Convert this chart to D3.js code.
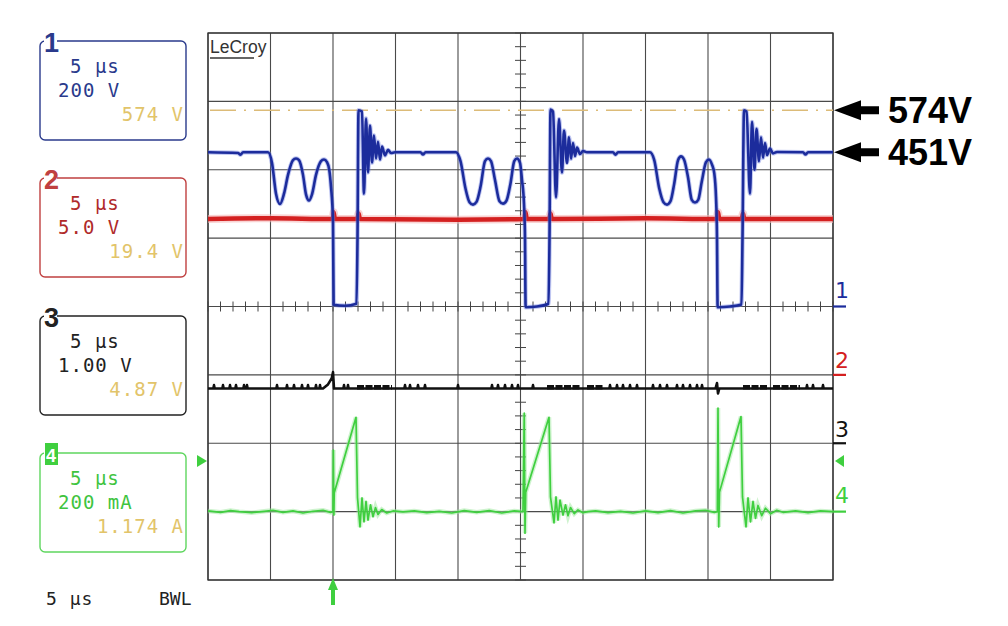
<!DOCTYPE html>
<html><head><meta charset="utf-8">
<script src="https://cdn.jsdelivr.net/npm/d3@7"></script>
<style>
html,body{margin:0;padding:0;background:#fff;}
svg{display:block;}
</style></head>
<body><svg id="c" width="1008" height="626"></svg>
<script>
// ---------- DATA ----------
const timeRange = [-10, 40];          // µs, 5 µs/div, trigger at 0
const divRange = [-4, 4];             // vertical divisions
const channelNames = ["1", "2", "3", "4"];
const channelGround = [0, -1, -2, -3];     // ground position (div)
const channelPerDiv = [200, 5, 1, 200];    // V/div, V/div, V/div, mA/div
const channelColors = ["#1c2c9c", "#d42020", "#111111", "#3fcf3f"];
const boxTime = ["5 µs", "5 µs", "5 µs", "5 µs"];
const boxScale = ["200 V", "5.0 V", "1.00 V", "200 mA"];
const boxMeas = ["574 V", "19.4 V", "4.87 V", "1.174 A"];
const annotValues = [574, 451];
const annotLabels = ["574V", "451V"];
const triggerLevel = 148; // mA on ch4

// Channel 1 (drain voltage, V)
const ch1Trace = [
 [-10,451],[-7.6,449],[-7.4,444],[-7.2,451],[-5.2,451],[-4.88,420],[-4.56,330],[-4.24,300],[-3.92,330],[-3.6,385],[-3.2,428],[-2.96,433],[-2.72,428],[-2.4,385],[-2.16,328],[-1.92,310],[-1.68,328],[-1.36,385],[-0.96,425],[-0.72,430],[-0.48,422],[-0.3,400],[-0.16,350],[0,250],[0.05,5],[0.96,2],[1.88,8],[1.96,200],[2.04,574],[2.32,570],[2.48,330],[2.64,550],[2.8,392],[2.96,529],[3.12,421],[3.28,500],[3.44,433],[3.6,482],[3.76,430],[3.92,468],[4.16,442],[4.4,458],[4.64,449],[4.96,451],
 [7.0,451],[7.2,445],[7.4,451],[9.84,451],[10.2,425],[10.6,345],[10.92,305],[11.2,298],[11.48,306],[11.8,350],[12.16,425],[12.4,433],[12.64,425],[12.96,370],[13.32,308],[13.6,301],[13.88,310],[14.2,360],[14.5,425],[14.72,433],[14.96,420],[15.12,370],[15.28,300],[15.36,200],[15.41,-2],[16.32,0],[17.24,8],[17.32,200],[17.4,576],[17.6,570],[17.84,319],[18.08,548],[18.32,392],[18.48,515],[18.72,420],[18.88,495],[19.04,432],[19.2,478],[19.36,440],[19.52,465],[19.76,446],[20.0,455],[20.32,451],
 [22.4,451],[22.6,444],[22.8,451],[25.36,451],[25.7,428],[26.1,345],[26.44,305],[26.72,298],[27.0,308],[27.3,360],[27.6,428],[27.84,439],[28.08,430],[28.4,378],[28.7,312],[28.96,304],[29.22,312],[29.5,365],[29.84,422],[30.08,430],[30.32,415],[30.5,390],[30.64,320],[30.72,200],[30.77,-2],[31.76,0],[32.68,6],[32.76,200],[32.88,574],[33.08,570],[33.36,330],[33.52,540],[33.72,400],[33.88,520],[34.08,425],[34.24,495],[34.4,435],[34.56,478],[34.72,443],[34.96,462],[35.2,448],[35.52,452],[37.6,451],[37.8,445],[38.0,451],[40,451]
];
// Channel 2 (V)
const ch2Trace = [
 [-10,11.4],[-5,11.45],[0,11.4],[0.05,11.9],[0.15,11.4],[1.95,11.4],[2.05,11.8],[2.15,11.4],[10,11.35],[15.3,11.4],[15.4,11.9],[15.5,11.4],[17.3,11.4],[17.4,11.8],[17.5,11.4],[25,11.45],[30.7,11.4],[30.8,11.9],[30.9,11.4],[32.7,11.4],[32.8,11.8],[32.9,11.4],[40,11.4]
];
// Channel 3 (V)
const ch3Base = 0.80;
const ch3Spikes = [-9.52,-8.8,-8.24,-7.76,-7.12,-6.88,-4.48,-3.68,-3.12,-2.48,-2.0,-1.36,-1.04,0.88,1.2,5.76,6.16,6.8,7.36,10.0,12.72,13.2,13.76,14.32,14.8,16.0,22.16,22.72,23.2,23.76,24.32,25.6,26.16,26.72,27.52,28.0,28.56,29.12,29.52,37.92,38.4,39.2];
const ch3Bumps = [[-0.8,0.80],[-0.4,0.86],[-0.1,0.95],[0,1.04],[0.08,0.80],[30.6,0.80],[30.72,0.88],[30.8,0.73],[30.9,0.80]];
const ch3Bursts = [[1.92,4.72],[17.12,19.76],[20.32,21.6],[32.8,34.72],[35.2,37.36]];
// Channel 4 (mA)
const ch4Trace = [
 [-10,2],[-9,-2],[-8.2,3],[-7.5,0],[-6.5,-3],[-5.5,1],[-4.8,4],[-4.0,-2],[-3.2,2],[-2.4,-4],[-1.6,1],[-0.8,4],[-0.2,-2],[0,0],[0.03,180],[0.07,-10],[0.1,55],[1.84,276],[1.96,41],[2.16,-45],[2.32,40],[2.48,-30],[2.64,30],[2.8,-25],[3.0,20],[3.2,-15],[3.4,12],[3.6,-8],[3.9,6],[4.3,-4],[4.8,2],[5.6,-1],
 [6.5,2],[7.5,-3],[8.5,1],[9.5,-4],[10.5,3],[11.5,-2],[12.5,3],[13.5,-4],[14.5,2],[15.2,0],[15.3,288],[15.36,-63],[15.42,57],[17.28,276],[17.4,43],[17.68,-33],[17.84,43],[18.0,-25],[18.16,34],[18.4,-10],[18.6,20],[18.8,-12],[19.0,12],[19.3,-6],[19.6,5],[20.0,-3],[20.4,0],
 [21,2],[22,-3],[23,1],[24,-4],[25,2],[26,-3],[27,3],[28,-4],[29,2],[29.8,4],[30.5,-2],[30.75,0],[30.8,303],[30.86,-45],[30.92,57],[32.64,278],[32.76,43],[33.04,-45],[33.2,40],[33.4,-30],[33.6,30],[33.8,-20],[34.0,18],[34.3,-12],[34.6,10],[35.0,-6],[35.5,4],[36,-2],[37,2],[38,-3],[39,2],[40,0]
];

// ---------- DRAW ----------
const svg = d3.select("#c");
svg.append("rect").attr("width",1008).attr("height",626).attr("fill","#fff");
const x = d3.scaleLinear().domain(timeRange).range([208, 833]);
const yDiv = d3.scaleLinear().domain(divRange).range([580, 33]);
const yCh = i => v => yDiv(channelGround[i] + v / channelPerDiv[i]);

// grid
const grid = svg.append("g");
d3.range(timeRange[0], timeRange[1] + 0.01, 5).forEach(t => {
  grid.append("line").attr("x1", x(t)).attr("x2", x(t)).attr("y1", yDiv(4)).attr("y2", yDiv(-4))
    .attr("stroke", "#4a4a4a").attr("stroke-width", 1.1);
});
d3.range(divRange[0], divRange[1] + 0.01, 1).forEach(d => {
  grid.append("line").attr("x1", x(-10)).attr("x2", x(40)).attr("y1", yDiv(d)).attr("y2", yDiv(d))
    .attr("stroke", "#4a4a4a").attr("stroke-width", 1.1);
});
grid.append("rect").attr("x", x(-10)).attr("y", yDiv(4)).attr("width", x(40) - x(-10)).attr("height", yDiv(-4) - yDiv(4))
  .attr("fill", "none").attr("stroke", "#333").attr("stroke-width", 1.3);
// minor ticks on center axes
d3.range(timeRange[0], timeRange[1] + 0.01, 1).forEach(t => {
  grid.append("line").attr("x1", x(t)).attr("x2", x(t)).attr("y1", yDiv(0) - 5).attr("y2", yDiv(0) + 5)
    .attr("stroke", "#444").attr("stroke-width", 1);
});
d3.range(divRange[0], divRange[1] + 0.01, 0.2).forEach(d => {
  grid.append("line").attr("x1", x(15) - 5.5).attr("x2", x(15) + 5.5).attr("y1", yDiv(d)).attr("y2", yDiv(d))
    .attr("stroke", "#444").attr("stroke-width", 1);
});

// LeCroy label
svg.append("text").attr("x", 210).attr("y", 53).text("LeCroy")
  .attr("font-family", "Liberation Sans, Arial, sans-serif").attr("font-size", 17.5).attr("fill", "#333");
svg.append("line").attr("x1", 210).attr("x2", 254).attr("y1", 58).attr("y2", 58).attr("stroke", "#333").attr("stroke-width", 1.3);

// 574V dashed cursor
svg.append("line").attr("x1", x(-10) + 2).attr("x2", x(40)).attr("y1", yCh(0)(annotValues[0])).attr("y2", yCh(0)(annotValues[0]))
  .attr("stroke", "#dcbb78").attr("stroke-width", 1.6).attr("stroke-dasharray", "26,8,2,8");

const line = (i, curve) => d3.line().x(d => x(d[0])).y(d => yCh(i)(d[1])).curve(curve);

// channel 2 red
svg.append("path").datum(ch2Trace).attr("d", line(1, d3.curveMonotoneX)).attr("fill", "none").attr("stroke", "#f5b5b5").attr("stroke-width", 8).attr("opacity", 0.6);
svg.append("path").datum(ch2Trace).attr("d", line(1, d3.curveMonotoneX)).attr("fill", "none").attr("stroke", channelColors[1]).attr("stroke-width", 4.5);

// channel 1 blue
svg.append("path").datum(ch1Trace).attr("d", line(0, d3.curveMonotoneX)).attr("fill", "none").attr("stroke", "#7080e0").attr("stroke-width", 4.5).attr("opacity", 0.45);
svg.append("path").datum(ch1Trace).attr("d", line(0, d3.curveMonotoneX)).attr("fill", "none").attr("stroke", channelColors[0]).attr("stroke-width", 2.6).attr("stroke-linejoin", "round");

// channel 3 black
const ch3Pts = [];
const events = [];
ch3Spikes.forEach(t => events.push([[t - 0.05, ch3Base], [t, ch3Base + 0.05], [t + 0.05, ch3Base]]));
ch3Bumps.forEach(p => events.push([p]));
events.flat().concat([[timeRange[0], ch3Base], [timeRange[1], ch3Base]]).sort((a, b) => a[0] - b[0]).forEach(p => ch3Pts.push(p));
svg.append("path").datum(ch3Pts).attr("d", d3.line().x(d => x(d[0])).y(d => yCh(2)(d[1]))).attr("fill", "none")
  .attr("stroke", channelColors[2]).attr("stroke-width", 2.6).attr("stroke-linejoin", "round");
ch3Bursts.forEach(b => {
  svg.append("line").attr("x1", x(b[0])).attr("x2", x(b[1])).attr("y1", yCh(2)(ch3Base + 0.02)).attr("y2", yCh(2)(ch3Base + 0.02))
    .attr("stroke", channelColors[2]).attr("stroke-width", 4.5).attr("stroke-dasharray", "7,1.5");
});

// channel 4 green
svg.append("path").datum(ch4Trace).attr("d", line(3, d3.curveLinear)).attr("fill", "none").attr("stroke", "#9de89d").attr("stroke-width", 4.5).attr("opacity", 0.5);
svg.append("path").datum(ch4Trace).attr("d", line(3, d3.curveLinear)).attr("fill", "none").attr("stroke", channelColors[3]).attr("stroke-width", 1.7).attr("stroke-linejoin", "round");

// trigger markers
const gY = yCh(3)(triggerLevel);
svg.append("path").attr("d", `M${x(-10) - 11},${gY - 6}L${x(-10) - 1},${gY}L${x(-10) - 11},${gY + 6}Z`).attr("fill", channelColors[3]);
svg.append("path").attr("d", `M${x(40) + 11},${gY - 6}L${x(40) + 2},${gY}L${x(40) + 11},${gY + 6}Z`).attr("fill", channelColors[3]);
const tx = x(0);
svg.append("path").attr("d", `M${tx},${578}L${tx + 5},${590}L${tx + 2},${590}L${tx + 2},${605}L${tx - 2},${605}L${tx - 2},${590}L${tx - 5},${590}Z`).attr("fill", channelColors[3]);

// right channel labels
const rLabelBase = [298, 368, 437, 503];
channelNames.forEach((n, i) => {
  svg.append("line").attr("x1", x(40)).attr("x2", x(40) + 13).attr("y1", yCh(i)(0)).attr("y2", yCh(i)(0))
    .attr("stroke", channelColors[i]).attr("stroke-width", 2.2);
  svg.append("text").attr("x", 835).attr("y", rLabelBase[i]).text(n)
    .attr("font-family", "DejaVu Sans, sans-serif").attr("font-size", 22).attr("fill", channelColors[i]);
});

// annotations right
annotValues.forEach((v, i) => {
  const ay = yCh(0)(v);
  svg.append("path").attr("d", `M834,${ay}L861,${ay - 10}L861,${ay - 4}L879,${ay - 4}L879,${ay + 4}L861,${ay + 4}L861,${ay + 10}Z`).attr("fill", "#000");
  svg.append("text").attr("x", 888).attr("y", ay + 13).text(annotLabels[i])
    .attr("font-family", "Liberation Sans, Arial, sans-serif").attr("font-weight", "bold").attr("font-size", 36).attr("fill", "#000");
});

// left info boxes
const boxTop = [41, 178, 316, 453];
const boxTextColors = ["#2a3a8c", "#b02a2a", "#222", "#3fc43f"];
const boxStroke = ["#2a3a8c", "#c04040", "#222", "#5fd65f"];
const mono = "DejaVu Sans Mono, monospace";
channelNames.forEach((n, i) => {
  const top = boxTop[i];
  const g = svg.append("g");
  g.append("rect").attr("x", 40).attr("y", top).attr("width", 146).attr("height", 99).attr("rx", 5)
    .attr("fill", "none").attr("stroke", boxStroke[i]).attr("stroke-width", 1.4);
  g.append("rect").attr("x", 44).attr("y", top - 4).attr("width", 13).attr("height", 8).attr("fill", "#fff");
  if (i < 3) {
    g.append("text").attr("x", 44).attr("y", top + 11).text(n).attr("font-family", "Liberation Sans, Arial, sans-serif")
      .attr("font-weight", "bold").attr("font-size", 27).attr("fill", boxStroke[i]);
  } else {
    g.append("rect").attr("x", 45).attr("y", top - 10).attr("width", 13).attr("height", 22).attr("fill", channelColors[3]);
    g.append("text").attr("x", 46).attr("y", top + 9).text(n).attr("font-family", "Liberation Sans, Arial, sans-serif")
      .attr("font-weight", "bold").attr("font-size", 18).attr("fill", "#fff");
  }
  g.append("text").attr("x", 70).attr("y", top + 32).text(boxTime[i]).attr("font-family", mono).attr("font-size", 19)
    .attr("fill", boxTextColors[i]).attr("letter-spacing", 1);
  g.append("text").attr("x", 58).attr("y", top + 56).text(boxScale[i]).attr("font-family", mono).attr("font-size", 19)
    .attr("fill", boxTextColors[i]).attr("letter-spacing", 1);
  g.append("text").attr("x", 184).attr("y", top + 80).text(boxMeas[i]).attr("text-anchor", "end").attr("font-family", mono)
    .attr("font-size", 19).attr("fill", "#e2c46a").attr("letter-spacing", 1);
});

// bottom status
svg.append("text").attr("x", 46).attr("y", 605).text("5 µs").attr("font-family", mono).attr("font-size", 18).attr("fill", "#222").attr("letter-spacing", 1);
svg.append("text").attr("x", 159).attr("y", 605).text("BWL").attr("font-family", mono).attr("font-size", 18).attr("fill", "#222");
</script>
</body></html>
